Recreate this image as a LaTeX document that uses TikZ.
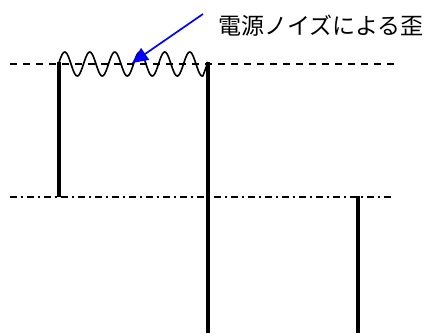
\documentclass[tikz,border=0pt]{standalone}
\usepackage{fontspec}
\newfontfamily\cjk{Noto Sans CJK JP}
\usetikzlibrary{arrows.meta}
\begin{document}
\begin{tikzpicture}[x=1pt,y=-1pt,
  refline/.style={line width=1.5pt},
  dashref/.style={refline, dash pattern=on 7pt off 6pt},
  dashdotref/.style={refline, dash pattern=on 7pt off 4pt on 2pt off 4pt},
  pulse/.style={line width=3.2pt},
  wave/.style={line width=1.6pt},
  callout/.style={blue, line width=1.7pt, -{Triangle[length=16pt,width=14pt]}},
  label/.style={font=\cjk\fontsize{23}{26}\selectfont, anchor=west, inner sep=0pt}]
\useasboundingbox (0,0) rectangle (432,333);
% reference levels
\coordinate (hiL) at (10,64);
\coordinate (hiR) at (396,64);
\coordinate (midL) at (10,197);
\coordinate (midR) at (394,197);
\draw[dashref] (hiL) -- (hiR);
\draw[dashdotref] (midL) -- (midR);
% pulse edges
\coordinate (e1t) at (59,62);
\coordinate (e1b) at (59,197);
\coordinate (e2t) at (208,62);
\coordinate (e2b) at (208,333);
\coordinate (e3t) at (358,196);
\coordinate (e3b) at (358,333);
\draw[pulse] (e1t) -- (e1b);
\draw[pulse] (e2t) -- (e2b);
\draw[pulse] (e3t) -- (e3b);
% noise ripple on top
\draw[wave, domain=0:5.78, samples=200, smooth]
  plot ({58.5+25*\x}, {64-12*sin(360*\x)}) -- (e2t);
% label and arrow
\node[label] (lbl) at (218,26) {電源ノイズによる歪};
\coordinate (tip) at (132,63);
\coordinate (tail) at (203,14);
\draw[callout] (tail) -- (tip);
\end{tikzpicture}
\end{document}
